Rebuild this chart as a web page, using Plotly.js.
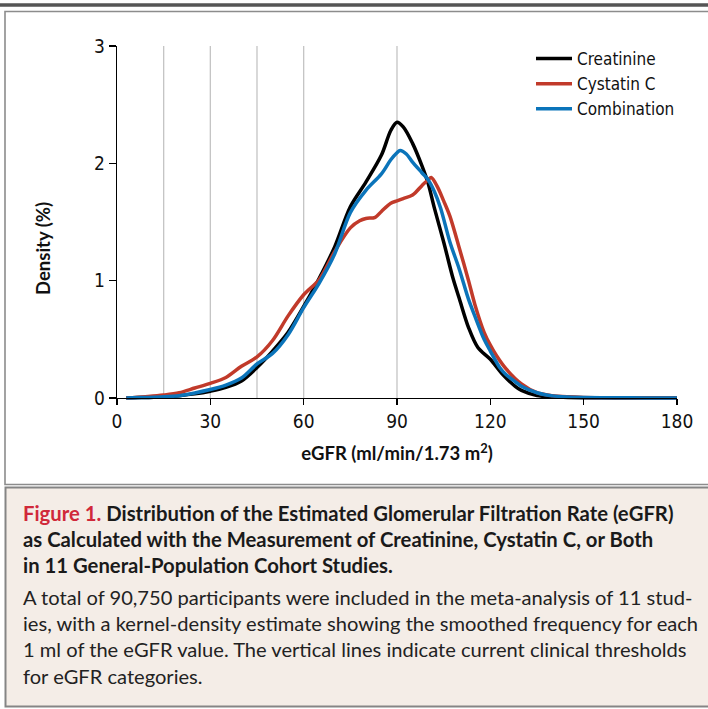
<!DOCTYPE html>
<html>
<head>
<meta charset="utf-8">
<script src="https://cdn.plot.ly/plotly-3.0.1.min.js"></script>
<style>
html,body{margin:0;padding:0;background:#ffffff;}
#chart{width:708px;height:709px;}
</style>
</head>
<body>
<div id="chart"></div>
<script>
// ---- data ----
const seriesNames = ["Creatinine", "Cystatin C", "Combination"];

const creatinineX = [3,5,10,15,20,25,30,35,40,45,50,55,60,65,70,75,80,85,88,90,92,95,98,100,102,105,108,110,113,116,120,124,128,130,135,140,145,150,160,170,180];
const creatinineY = [0,0.002,0.005,0.01,0.02,0.035,0.058,0.09,0.145,0.26,0.40,0.56,0.78,1.02,1.29,1.63,1.84,2.07,2.28,2.35,2.31,2.17,1.98,1.83,1.62,1.33,1.02,0.85,0.60,0.43,0.33,0.20,0.10,0.065,0.022,0.01,0.005,0.003,0.001,0,0];

const cystatinX = [3,5,10,15,20,25,30,35,40,45,50,55,60,65,70,75,78,80,83,85,88,90,92,95,98,100,101,103,105,107,110,113,115,118,120,122,125,130,135,140,145,150,160,170,180];
const cystatinY = [0,0.003,0.012,0.025,0.045,0.085,0.125,0.175,0.27,0.35,0.49,0.70,0.88,1.01,1.25,1.45,1.51,1.53,1.54,1.59,1.66,1.68,1.70,1.73,1.81,1.86,1.88,1.80,1.68,1.55,1.28,1.00,0.80,0.56,0.45,0.36,0.25,0.12,0.045,0.02,0.01,0.005,0.002,0.001,0];

const combinationX = [3,5,10,15,20,25,30,35,40,45,50,55,60,65,70,75,80,85,88,90,91,93,95,98,100,102,104,107,110,113,115,118,120,123,125,128,130,135,140,145,150,160,170,180];
const combinationY = [0,0.002,0.005,0.01,0.02,0.043,0.072,0.11,0.17,0.29,0.38,0.54,0.77,0.98,1.23,1.58,1.77,1.91,2.03,2.09,2.11,2.08,2.01,1.92,1.86,1.76,1.62,1.33,1.10,0.84,0.70,0.50,0.40,0.26,0.20,0.14,0.10,0.045,0.018,0.008,0.004,0.002,0.001,0];

const thresholds = [15, 30, 45, 60, 90];
const xTicks = [0, 30, 60, 90, 120, 150, 180];
const yTicks = [0, 1, 2, 3];

const xTitle = "eGFR (ml/min/1.73 m<sup>2</sup>)";
const yTitle = "Density (%)";

const captionTitleLines = [
  '<span style="color:#d0283a">Figure 1.</span> Distribution of the Estimated Glomerular Filtration Rate (eGFR)',
  'as Calculated with the Measurement of Creatinine, Cystatin C, or Both',
  'in 11 General-Population Cohort Studies.'
];
const captionBodyLines = [
  'A total of 90,750 participants were included in the meta-analysis of 11 stud-',
  'ies, with a kernel-density estimate showing the smoothed frequency for each',
  '1 ml of the eGFR value. The vertical lines indicate current clinical thresholds',
  'for eGFR categories.'
];

// ---- page geometry (pixels) ----
const W = 708, H = 709;
const L = 117, R = 677, T = 46, B = 402;   // plot area; y=0 sits 4px above B
const PW = R - L, PH = B - T;
const yMin = -4 / ((398 - 46) / 3);
function px(x) { return (x - L) / PW; }
function py(y) { return (B - y) / PH; }

const narrow = "Liberation Sans Narrow, DejaVu Sans Condensed, Arial Narrow, sans-serif";
const humanist = "Lato, Open Sans, Noto Sans, sans-serif";

const colors = ["#000000", "#c13a2a", "#0b74ba"];
const xs = [creatinineX, cystatinX, combinationX];
const ys = [creatinineY, cystatinY, combinationY];

const traces = seriesNames.map((name, i) => ({
  type: "scatter",
  mode: "lines",
  name: name,
  x: xs[i],
  y: ys[i],
  line: { color: colors[i], width: 3.5, shape: "spline", smoothing: 0.9 },
  hoverinfo: "skip"
}));

const shapes = [];
// threshold lines
thresholds.forEach(t => shapes.push({
  type: "line", xref: "x", yref: "y", x0: t, x1: t, y0: 0, y1: 3,
  line: { color: "#c4c4c4", width: 1.3 }, layer: "below"
}));
// top heavy rule
shapes.push({ type: "line", xref: "paper", yref: "paper",
  x0: px(0), x1: px(W), y0: py(5), y1: py(5),
  line: { color: "#555555", width: 3.5 }, layer: "below" });
// chart frame
shapes.push({ type: "rect", xref: "paper", yref: "paper",
  x0: px(5), x1: px(720), y0: py(11.5), y1: py(484.5),
  line: { color: "#8c8c8c", width: 1.6 }, fillcolor: "rgba(0,0,0,0)", layer: "below" });
// caption box
shapes.push({ type: "rect", xref: "paper", yref: "paper",
  x0: px(5.5), x1: px(720), y0: py(487.5), y1: py(706.5),
  line: { color: "#858585", width: 2 }, fillcolor: "#f4ede7", layer: "below" });

const annotations = [];
// y-axis title (placed where the reference shows it)
annotations.push({
  xref: "paper", yref: "paper", x: px(43), y: py(249),
  xanchor: "center", yanchor: "middle", showarrow: false, textangle: -90,
  text: yTitle, font: { family: humanist, size: 18.5, color: "#111", weight: "bold" }
});
const titleCenters = [513, 539, 565];
captionTitleLines.forEach((t, i) => annotations.push({
  xref: "paper", yref: "paper", x: px(21), y: py(titleCenters[i]),
  xanchor: "left", yanchor: "middle", showarrow: false, align: "left",
  text: t, font: { family: humanist, size: 20.3, color: "#1a1a1a", weight: "bold" }
}));
const bodyCenters = [597, 623, 649, 676];
captionBodyLines.forEach((t, i) => annotations.push({
  xref: "paper", yref: "paper", x: px(21), y: py(bodyCenters[i]),
  xanchor: "left", yanchor: "middle", showarrow: false, align: "left",
  text: t, font: { family: humanist, size: 20.1, color: "#222222" }
}));

const layout = {
  width: W, height: H,
  margin: { l: L, r: W - R, t: T, b: H - B, pad: 0 },
  paper_bgcolor: "#ffffff", plot_bgcolor: "rgba(0,0,0,0)",
  showlegend: true,
  legend: {
    x: px(531), y: py(41), xanchor: "left", yanchor: "top",
    bgcolor: "rgba(0,0,0,0)", borderwidth: 0, itemwidth: 36,
    font: { family: narrow, size: 17, color: "#111111" },
    tracegroupgap: 0
  },
  xaxis: {
    range: [0, 180], anchor: "free", position: py(398),
    tickvals: xTicks, ticktext: xTicks.map(String),
    ticks: "outside", ticklen: 6, tickwidth: 1.2, tickcolor: "#000",
    showline: true, linecolor: "#000", linewidth: 1.3,
    showgrid: false, zeroline: false,
    tickfont: { family: narrow, size: 19, color: "#111" },
    title: { text: xTitle, standoff: 16, font: { family: humanist, size: 18.5, color: "#111", weight: "bold" } }
  },
  yaxis: {
    range: [yMin, 3],
    tickvals: yTicks, ticktext: yTicks.map(String),
    ticks: "outside", ticklen: 7, tickwidth: 1.2, tickcolor: "#000",
    showline: true, linecolor: "#000", linewidth: 1.3,
    showgrid: false, zeroline: false,
    tickfont: { family: narrow, size: 19, color: "#111" }
  },
  shapes: shapes,
  annotations: annotations
};

Plotly.newPlot("chart", traces, layout, { displayModeBar: false, staticPlot: true });
</script>
</body>
</html>
